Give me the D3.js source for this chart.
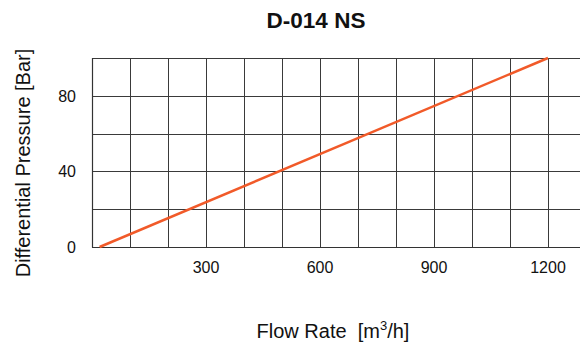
<!DOCTYPE html>
<html>
<head>
<meta charset="utf-8">
<script src="https://cdn.jsdelivr.net/npm/d3@7"></script>
<style>
  body { margin: 0; background: #fff; }
  text { font-family: "Liberation Sans", Arial, Helvetica, sans-serif; fill: #111; }
</style>
</head>
<body>
<div id="chart"></div>
<script>
// values
var title = "D-014 NS";
var flowTicks = [300, 600, 900, 1200];
var pressureTicks = [0, 40, 80];
var flowGrid = [100, 200, 300, 400, 500, 600, 700, 800, 900, 1000, 1100, 1200];
var pressureGrid = [20, 40, 60, 80, 100];
var curveFlow = [20, 1200];
var curvePressure = [0, 100];

var margin = { left: 92, right: 0, top: 58, bottom: 97 };
var W = 580, H = 344;
var width = W - margin.left - margin.right,
    height = H - margin.top - margin.bottom;

var svg = d3.select("#chart").append("svg")
    .attr("width", W)
    .attr("height", H);

var g = svg.append("g")
    .attr("transform", "translate(" + margin.left + "," + margin.top + ")");

var x = d3.scaleLinear().domain([0, width / 0.38]).range([0, width]);
var y = d3.scaleLinear().domain([0, 100]).range([height, 0]);

// grid
g.append("g").selectAll("line").data(flowGrid).enter().append("line")
    .attr("x1", function(d){ return Math.round(x(d)) + 0.5; })
    .attr("x2", function(d){ return Math.round(x(d)) + 0.5; })
    .attr("y1", 0)
    .attr("y2", height)
    .attr("stroke", "#3a3a3a")
    .attr("stroke-width", 1);

g.append("g").selectAll("line").data(pressureGrid).enter().append("line")
    .attr("x1", 0)
    .attr("x2", width)
    .attr("y1", function(d){ return Math.round(y(d)) + 0.5; })
    .attr("y2", function(d){ return Math.round(y(d)) + 0.5; })
    .attr("stroke", "#3a3a3a")
    .attr("stroke-width", 1);

// axis lines (left and bottom)
g.append("line")
    .attr("x1", 0.5).attr("x2", 0.5)
    .attr("y1", 0).attr("y2", height + 0.5)
    .attr("stroke", "#333").attr("stroke-width", 1.2);
g.append("line")
    .attr("x1", 0).attr("x2", width)
    .attr("y1", height + 0.5).attr("y2", height + 0.5)
    .attr("stroke", "#333").attr("stroke-width", 1.2);

// tick labels
g.append("g").selectAll("text").data(flowTicks).enter().append("text")
    .attr("x", function(d){ return x(d); })
    .attr("y", height + 26)
    .attr("text-anchor", "middle")
    .attr("font-size", "16px")
    .text(function(d){ return d; });

g.append("g").selectAll("text").data(pressureTicks).enter().append("text")
    .attr("x", -16)
    .attr("y", function(d){ return y(d) + 6; })
    .attr("text-anchor", "end")
    .attr("font-size", "16px")
    .text(function(d){ return d; });

// curve
var line = d3.line()
    .x(function(d){ return x(d[0]); })
    .y(function(d){ return y(d[1]); });

g.append("path")
    .datum(curveFlow.map(function(f, i){ return [f, curvePressure[i]]; }))
    .attr("d", line)
    .attr("fill", "none")
    .attr("stroke", "#f15a29")
    .attr("stroke-width", 2.5);

// title
svg.append("text")
    .attr("x", 316)
    .attr("y", 28)
    .attr("text-anchor", "middle")
    .attr("font-size", "22.5px")
    .attr("font-weight", "bold")
    .text(title);

// axis titles
svg.append("text")
    .attr("transform", "translate(30,163) rotate(-90)")
    .attr("text-anchor", "middle")
    .attr("font-size", "20px")
    .text("Differential Pressure [Bar]");

var xl = svg.append("text")
    .attr("x", 333)
    .attr("y", 338)
    .attr("text-anchor", "middle")
    .attr("font-size", "20px");
xl.append("tspan").text("Flow Rate\u00a0\u00a0[m");
xl.append("tspan").attr("font-size", "13px").attr("dy", -8).text("3");
xl.append("tspan").attr("dy", 8).text("/h]");
</script>
</body>
</html>
